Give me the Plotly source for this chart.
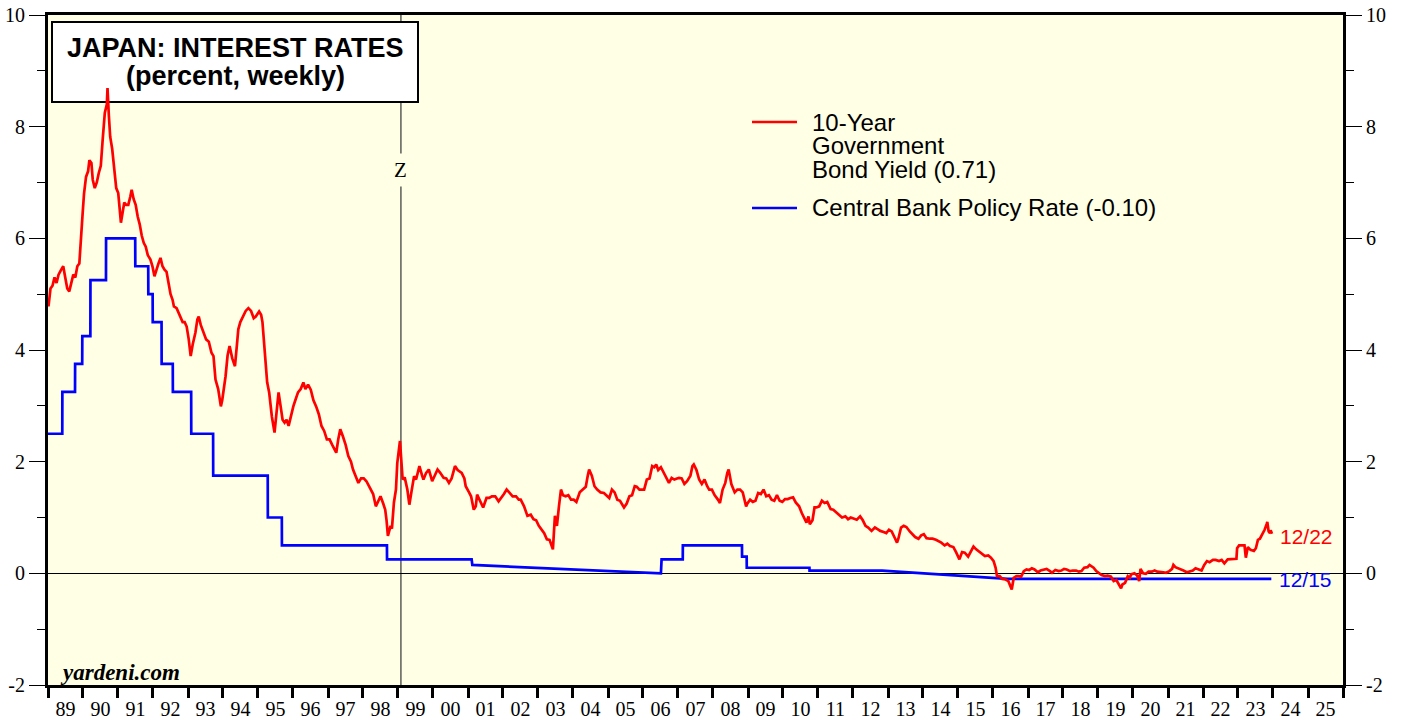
import plotly.graph_objects as go

# ---------------- DATA ----------------
bond_dates = [
 "1989-01-06","1989-01-27","1989-02-17","1989-03-10","1989-03-31","1989-04-21","1989-05-19","1989-06-09","1989-06-30","1989-07-21","1989-08-11","1989-09-01","1989-09-22","1989-10-13","1989-11-03","1989-11-24","1989-12-15","1989-12-29",
 "1990-01-12","1990-02-02","1990-02-23","1990-03-09","1990-03-30","1990-04-13","1990-05-04","1990-05-25","1990-06-15","1990-07-06","1990-07-27","1990-08-17","1990-09-07","1990-09-14","1990-09-28","1990-10-12","1990-11-02","1990-11-23","1990-12-14",
 "1991-01-04","1991-01-18","1991-02-01","1991-02-22","1991-03-08","1991-03-29","1991-04-19","1991-05-10","1991-05-24","1991-06-14","1991-07-05","1991-07-26","1991-08-16","1991-09-06","1991-09-27","1991-10-18","1991-11-08","1991-12-06","1991-12-27",
 "1992-01-17","1992-02-07","1992-02-28","1992-03-20","1992-04-10","1992-05-01","1992-05-22","1992-06-12","1992-07-03","1992-07-24","1992-08-07","1992-09-04","1992-09-25","1992-10-16","1992-11-06","1992-11-27","1992-12-18",
 "1993-01-08","1993-01-29","1993-02-19","1993-03-19","1993-04-09","1993-04-23","1993-05-14","1993-06-11","1993-07-09","1993-08-06","1993-09-03","1993-09-24","1993-10-15","1993-11-12","1993-12-10","1993-12-24",
 "1994-01-14","1994-01-28","1994-02-18","1994-03-11","1994-04-08","1994-05-06","1994-05-27","1994-06-10","1994-07-01","1994-07-29","1994-08-26","1994-09-23","1994-10-21","1994-11-18","1994-12-09",
 "1995-01-13","1995-02-03","1995-02-17","1995-03-10","1995-04-07","1995-04-28","1995-05-26","1995-06-23","1995-07-14","1995-08-04","1995-08-25","1995-09-15","1995-10-06","1995-10-27","1995-11-17","1995-12-15",
 "1996-01-05","1996-01-26","1996-02-23","1996-03-22","1996-04-19","1996-05-10","1996-06-07","1996-07-05","1996-08-02","1996-08-30","1996-09-27","1996-10-25","1996-11-22","1996-12-20",
 "1997-01-17","1997-02-14","1997-03-28","1997-04-18","1997-05-09","1997-06-06","1997-07-04","1997-08-01","1997-08-29","1997-09-19","1997-10-17","1997-11-14","1997-12-12",
 "1998-01-09","1998-02-06","1998-03-06","1998-03-20","1998-04-17","1998-05-15","1998-06-12","1998-07-03","1998-07-31","1998-08-21","1998-09-04","1998-09-18","1998-10-16","1998-10-30","1998-11-20","1998-12-11","1998-12-25",
 "1999-01-22","1999-02-19","1999-03-12","1999-04-09","1999-04-30","1999-05-21","1999-06-18","1999-07-09","1999-08-13","1999-09-10","1999-09-24","1999-10-22","1999-11-19","1999-12-24",
 "2000-01-21","2000-02-18","2000-03-17","2000-04-21","2000-05-19","2000-06-16","2000-07-14","2000-08-18","2000-09-15","2000-10-27","2000-11-24","2000-12-08",
 "2001-01-12","2001-02-02","2001-03-02","2001-03-23","2001-04-06","2001-05-04","2001-06-08","2001-07-13","2001-08-10","2001-09-07","2001-10-12","2001-11-16","2001-12-14",
 "2002-01-11","2002-02-08","2002-03-08","2002-04-12","2002-05-17","2002-06-14","2002-07-05","2002-08-09","2002-09-13","2002-10-18","2002-11-15","2002-12-13",
 "2003-01-10","2003-02-07","2003-03-07","2003-04-04","2003-05-02","2003-05-23","2003-06-06","2003-06-27","2003-07-18","2003-08-08","2003-08-29","2003-09-19","2003-10-17","2003-11-14","2003-12-12",
 "2004-01-09","2004-02-06","2004-03-12","2004-04-09","2004-05-14","2004-06-04","2004-06-18","2004-07-16","2004-08-13","2004-09-10","2004-10-15","2004-11-19","2004-12-17",
 "2005-01-14","2005-02-11","2005-03-11","2005-04-08","2005-05-06","2005-06-17","2005-07-15","2005-08-12","2005-09-09","2005-10-07","2005-10-28","2005-11-25","2005-12-23",
 "2006-01-13","2006-02-10","2006-03-10","2006-04-07","2006-04-28","2006-05-19","2006-06-09","2006-07-07","2006-08-04","2006-09-01","2006-09-29","2006-10-27","2006-11-24","2006-12-22",
 "2007-01-12","2007-02-09","2007-03-09","2007-04-06","2007-05-11","2007-06-01","2007-06-15","2007-07-13","2007-08-10","2007-09-07","2007-10-05","2007-11-02","2007-11-23","2007-12-21",
 "2008-01-18","2008-02-22","2008-03-14","2008-04-11","2008-05-09","2008-05-30","2008-06-13","2008-07-11","2008-08-15","2008-09-12","2008-10-10","2008-11-07","2008-12-12","2008-12-26",
 "2009-01-23","2009-02-20","2009-03-20","2009-04-17","2009-05-15","2009-06-12","2009-07-10","2009-08-07","2009-09-04","2009-10-02","2009-10-30","2009-11-27","2009-12-25",
 "2010-01-22","2010-02-19","2010-03-19","2010-04-16","2010-05-14","2010-06-18","2010-07-16","2010-08-13","2010-09-03","2010-09-24","2010-10-08","2010-11-05","2010-11-26","2010-12-17",
 "2011-01-14","2011-02-11","2011-03-11","2011-04-08","2011-05-13","2011-06-10","2011-07-08","2011-08-12","2011-09-09","2011-10-14","2011-11-11","2011-12-09",
 "2012-01-13","2012-02-10","2012-03-16","2012-04-13","2012-05-11","2012-06-08","2012-07-13","2012-08-17","2012-09-14","2012-10-12","2012-11-16","2012-12-14",
 "2013-01-11","2013-02-08","2013-03-08","2013-04-05","2013-04-19","2013-05-17","2013-06-14","2013-07-12","2013-08-16","2013-09-13","2013-10-11","2013-11-15","2013-12-13",
 "2014-01-10","2014-02-07","2014-03-14","2014-04-11","2014-05-16","2014-06-13","2014-07-11","2014-08-15","2014-09-12","2014-10-10","2014-11-14","2014-12-12",
 "2015-01-16","2015-02-13","2015-03-13","2015-04-17","2015-05-15","2015-06-12","2015-07-10","2015-08-14","2015-09-11","2015-10-09","2015-11-13","2015-12-11",
 "2016-01-08","2016-01-29","2016-02-12","2016-03-11","2016-04-08","2016-05-13","2016-06-10","2016-07-01","2016-07-15","2016-08-05","2016-09-02","2016-09-23","2016-10-21","2016-11-18","2016-12-16",
 "2017-01-13","2017-02-10","2017-03-10","2017-04-14","2017-05-12","2017-06-16","2017-07-14","2017-08-18","2017-09-08","2017-10-13","2017-11-17","2017-12-15",
 "2018-01-12","2018-02-09","2018-03-16","2018-04-13","2018-05-18","2018-06-15","2018-07-13","2018-08-10","2018-09-14","2018-10-05","2018-11-16","2018-12-14",
 "2019-01-11","2019-02-08","2019-03-15","2019-04-12","2019-05-17","2019-06-14","2019-07-12","2019-08-09","2019-08-30","2019-09-13","2019-10-11","2019-11-08","2019-11-29","2019-12-13",
 "2020-01-17","2020-02-14","2020-03-06","2020-03-20","2020-04-17","2020-05-15","2020-06-12","2020-07-17","2020-08-14","2020-09-11","2020-10-16","2020-11-13","2020-12-11",
 "2021-01-15","2021-02-12","2021-02-26","2021-03-19","2021-04-16","2021-05-14","2021-06-11","2021-07-16","2021-08-13","2021-09-17","2021-10-15","2021-11-12","2021-12-17",
 "2022-01-14","2022-02-11","2022-03-11","2022-04-15","2022-05-13","2022-06-17","2022-07-15","2022-08-12","2022-09-16","2022-10-14","2022-11-11","2022-12-16","2022-12-23",
 "2023-01-13","2023-02-10","2023-03-10","2023-03-24","2023-04-14","2023-05-12","2023-06-16","2023-07-07","2023-07-28","2023-08-18","2023-09-15","2023-10-06","2023-10-27","2023-11-03","2023-11-17","2023-12-01","2023-12-08","2023-12-22",
]
bond_yield = [
 4.78,5.10,5.15,5.30,5.20,5.35,5.44,5.50,5.30,5.10,5.05,5.20,5.35,5.30,5.50,5.55,6.00,6.46,
 6.80,7.10,7.20,7.40,7.35,7.05,6.90,7.00,7.17,7.30,7.80,8.25,8.40,8.69,8.20,7.82,7.60,7.17,6.90,
 6.81,6.50,6.28,6.50,6.64,6.60,6.60,6.75,6.87,6.70,6.60,6.39,6.25,6.05,5.92,5.85,5.70,5.62,5.50,
 5.32,5.45,5.55,5.65,5.50,5.44,5.40,5.20,5.00,4.90,4.78,4.75,4.67,4.60,4.50,4.50,4.42,
 4.20,3.89,4.10,4.31,4.55,4.60,4.45,4.30,4.19,4.15,3.95,3.89,3.47,3.30,2.99,3.10,
 3.35,3.53,3.90,4.07,3.85,3.71,4.10,4.37,4.50,4.60,4.70,4.75,4.70,4.57,4.60,
 4.69,4.63,4.50,4.00,3.42,3.24,2.81,2.52,2.90,3.24,3.00,2.75,2.70,2.75,2.64,2.85,
 2.99,3.10,3.24,3.30,3.42,3.30,3.38,3.29,3.10,2.99,2.85,2.64,2.55,2.40,
 2.40,2.30,2.16,2.40,2.58,2.45,2.30,2.10,2.00,1.86,1.75,1.62,1.70,
 1.70,1.65,1.55,1.50,1.42,1.20,1.30,1.38,1.25,1.14,0.95,0.67,0.85,0.80,1.27,1.50,1.98,
 2.37,1.68,1.72,1.50,1.23,1.45,1.74,1.68,1.92,1.75,1.68,1.80,1.86,1.65,
 1.75,1.86,1.80,1.71,1.70,1.62,1.70,1.92,1.85,1.80,1.70,1.56,
 1.45,1.38,1.14,1.20,1.41,1.30,1.18,1.35,1.35,1.38,1.38,1.29,1.35,
 1.42,1.50,1.45,1.38,1.38,1.32,1.32,1.20,1.03,1.05,0.97,0.95,
 0.85,0.79,0.72,0.61,0.60,0.50,0.43,1.03,0.85,1.20,1.50,1.40,1.38,1.40,1.32,
 1.32,1.28,1.45,1.50,1.55,1.75,1.86,1.75,1.56,1.50,1.45,1.44,1.40,
 1.35,1.50,1.45,1.32,1.30,1.18,1.25,1.38,1.40,1.56,1.55,1.50,1.50,
 1.50,1.68,1.70,1.92,1.90,1.95,1.85,1.90,1.80,1.70,1.62,1.71,1.68,1.70,
 1.71,1.70,1.60,1.65,1.75,1.92,1.95,1.85,1.68,1.60,1.68,1.56,1.50,1.50,
 1.40,1.32,1.26,1.50,1.62,1.80,1.86,1.60,1.45,1.50,1.50,1.45,1.20,1.25,
 1.32,1.28,1.30,1.44,1.42,1.50,1.38,1.40,1.32,1.30,1.40,1.30,1.28,
 1.33,1.33,1.35,1.36,1.27,1.20,1.08,0.98,0.91,1.02,0.88,0.95,1.18,1.18,
 1.20,1.30,1.26,1.28,1.15,1.14,1.10,1.05,1.00,1.02,0.97,1.00,
 0.97,0.96,1.02,0.95,0.85,0.82,0.76,0.82,0.79,0.76,0.74,0.72,
 0.78,0.75,0.65,0.55,0.62,0.82,0.85,0.83,0.75,0.70,0.65,0.62,0.68,
 0.70,0.63,0.62,0.62,0.60,0.58,0.55,0.50,0.53,0.49,0.47,0.38,
 0.25,0.38,0.37,0.30,0.40,0.48,0.43,0.38,0.35,0.31,0.32,0.28,
 0.22,0.10,-0.05,-0.05,-0.10,-0.11,-0.14,-0.22,-0.29,-0.08,-0.05,-0.05,-0.06,0.04,0.07,
 0.06,0.09,0.07,0.02,0.05,0.06,0.08,0.04,0.01,0.06,0.04,0.05,
 0.08,0.07,0.04,0.05,0.05,0.03,0.04,0.10,0.11,0.15,0.10,0.04,
 0.01,-0.03,-0.05,-0.04,-0.06,-0.14,-0.12,-0.20,-0.27,-0.20,-0.17,-0.05,-0.08,-0.02,
 0.00,-0.04,-0.14,0.08,0.00,-0.01,0.03,0.03,0.05,0.03,0.03,0.02,0.01,
 0.04,0.08,0.15,0.11,0.09,0.08,0.05,0.02,0.03,0.05,0.09,0.07,0.05,
 0.15,0.22,0.20,0.24,0.24,0.22,0.24,0.18,0.25,0.25,0.25,0.26,0.45,
 0.50,0.50,0.50,0.28,0.47,0.42,0.40,0.45,0.60,0.62,0.70,0.78,0.88,0.92,0.75,0.72,0.77,0.71,
]

policy_dates = [
 "1989-01-01","1989-05-30","1989-05-31","1989-10-10","1989-10-11","1989-12-24","1989-12-25",
 "1990-03-19","1990-03-20","1990-08-29","1990-08-30","1991-06-30","1991-07-01","1991-11-13","1991-11-14",
 "1991-12-29","1991-12-30","1992-03-31","1992-04-01","1992-07-26","1992-07-27","1993-02-03","1993-02-04",
 "1993-09-20","1993-09-21","1995-04-13","1995-04-14","1995-09-07","1995-09-08","1998-09-08","1998-09-09",
 "2001-02-08","2001-02-15","2006-07-07","2006-07-14","2007-02-20","2007-02-21","2008-10-30","2008-10-31",
 "2008-12-18","2008-12-19","2010-10-04","2010-10-05","2012-11-01","2016-06-01","2023-12-15",
]
policy_rate = [
 2.50,2.50,3.25,3.25,3.75,3.75,4.25,
 4.25,5.25,5.25,6.00,6.00,5.50,5.50,5.00,
 5.00,4.50,4.50,3.75,3.75,3.25,3.25,2.50,
 2.50,1.75,1.75,1.00,1.00,0.50,0.50,0.25,
 0.25,0.15,0.00,0.25,0.25,0.50,0.50,0.30,
 0.30,0.10,0.10,0.05,0.05,-0.10,-0.10,
]

y_tick_values = [-2, 0, 2, 4, 6, 8, 10]
y_tick_labels = ["-2", "0", "2", "4", "6", "8", "10"]

event_date = "1999-02-01"
event_label = "Z"
title_lines = ["JAPAN: INTEREST RATES", "(percent, weekly)"]
bond_legend = ["10-Year", "Government", "Bond Yield (0.71)"]
policy_legend = "Central Bank Policy Rate (-0.10)"
bond_end_label = "12/22"
policy_end_label = "12/15"

# ---------------- LAYOUT HELPERS ----------------
W, H = 1403, 719
L, R, T, B = 48, 1343, 15, 685

def PX(x):
    return (x - L) / (R - L)

def PY(y):
    return 1 - (y - T) / (B - T)

RED = "#FF0000"
BLUE = "#0000FF"
BG = "#FFFFE5"
SERIF = "Liberation Serif, Times New Roman, serif"
SANS = "Liberation Sans, Arial, sans-serif"

fig = go.Figure()
fig.add_trace(go.Scatter(x=policy_dates, y=policy_rate, mode="lines",
                         line=dict(color=BLUE, width=2.7), yaxis="y",
                         showlegend=False, hoverinfo="skip"))
fig.add_trace(go.Scatter(x=bond_dates, y=bond_yield, mode="lines",
                         line=dict(color=RED, width=2.7), yaxis="y2",
                         showlegend=False))

ytickfont = dict(family=SERIF, size=20, color="black")
xtickfont = dict(family=SERIF, size=20, color="black")
yaxis_common = dict(
    range=[-2, 10], tickmode="array", tickvals=y_tick_values, ticktext=y_tick_labels,
    ticks="outside", ticklen=16, tickwidth=1.3,
    tickcolor="black", showline=True, linecolor="black", linewidth=3,
    showgrid=False, tickfont=ytickfont, automargin=False,
    minor=dict(tickmode="linear", tick0=0, dtick=1, ticks="outside", ticklen=8,
               tickwidth=1.3, tickcolor="black", showgrid=False),
)

fig.update_layout(
    width=W, height=H, autosize=False,
    margin=dict(l=L, r=W - R, t=T, b=H - B, pad=0),
    paper_bgcolor="white",
    plot_bgcolor=BG,
    showlegend=False,
    xaxis=dict(
        type="date", range=["1989-01-01", "2026-01-01"], tick0="1989-01-01", dtick="M12",
        tickformat="%y", ticklabelmode="period", ticks="outside", ticklen=10, tickwidth=2.5,
        tickcolor="black", showline=True, linecolor="black", linewidth=3, mirror=True,
        showgrid=False, zeroline=False, tickfont=xtickfont, automargin=False,
        ticklabelstandoff=-6,
    ),
    yaxis=dict(**yaxis_common, zeroline=True, zerolinecolor="black", zerolinewidth=1),
    yaxis2=dict(**yaxis_common, overlaying="y", side="right", zeroline=False),
)

shapes = [
    dict(type="line", xref="x", yref="paper", x0=event_date, x1=event_date, y0=0, y1=1,
         line=dict(color="#333333", width=1.2), layer="below"),
    dict(type="rect", xref="paper", yref="paper", x0=PX(52), x1=PX(418), y0=PY(102), y1=PY(22),
         fillcolor="white", line=dict(color="black", width=2), layer="below"),
    dict(type="line", xref="paper", yref="paper", x0=PX(752), x1=PX(797), y0=PY(122), y1=PY(122),
         line=dict(color=RED, width=2.7)),
    dict(type="line", xref="paper", yref="paper", x0=PX(752), x1=PX(797), y0=PY(208), y1=PY(208),
         line=dict(color=BLUE, width=2.7)),
]
fig.update_layout(shapes=shapes)

ann = []
ann.append(dict(xref="paper", yref="paper", x=PX(235), y=PY(48), text="<b>%s</b>" % title_lines[0],
                showarrow=False, xanchor="center", yanchor="middle",
                font=dict(family=SANS, size=27, color="black")))
ann.append(dict(xref="paper", yref="paper", x=PX(235), y=PY(76), text="<b>%s</b>" % title_lines[1],
                showarrow=False, xanchor="center", yanchor="middle",
                font=dict(family=SANS, size=27, color="black")))
for i, t in enumerate(bond_legend):
    ann.append(dict(xref="paper", yref="paper", x=PX(810), y=PY(122 + i * 23.5), text=t,
                    showarrow=False, xanchor="left", yanchor="middle",
                    font=dict(family=SANS, size=24, color="black")))
ann.append(dict(xref="paper", yref="paper", x=PX(810), y=PY(208), text=policy_legend,
                showarrow=False, xanchor="left", yanchor="middle",
                font=dict(family=SANS, size=24, color="black")))
ann.append(dict(xref="x", yref="y", x=event_date, y=7.23, text=event_label, showarrow=False,
                xanchor="center", yanchor="middle", bgcolor=BG, borderpad=4,
                font=dict(family=SERIF, size=21, color="black")))
ann.append(dict(xref="paper", yref="paper", x=PX(58), y=PY(672), text="<b><i>yardeni.com</i></b>",
                showarrow=False, xanchor="left", yanchor="middle",
                font=dict(family=SERIF, size=23, color="black")))
ann.append(dict(xref="x", yref="y", x=bond_dates[-1], y=bond_yield[-1], text=bond_end_label,
                showarrow=False, xanchor="left", yanchor="middle", xshift=6, yshift=-3,
                font=dict(family=SANS, size=21, color=RED)))
ann.append(dict(xref="x", yref="y", x=policy_dates[-1], y=policy_rate[-1], text=policy_end_label,
                showarrow=False, xanchor="left", yanchor="middle", xshift=6, yshift=-1,
                font=dict(family=SANS, size=21, color=BLUE)))
fig.update_layout(annotations=ann)

fig.write_html("out.html", config={"displayModeBar": False},
               post_script="document.body.style.margin='0';document.body.style.overflow='hidden';")
